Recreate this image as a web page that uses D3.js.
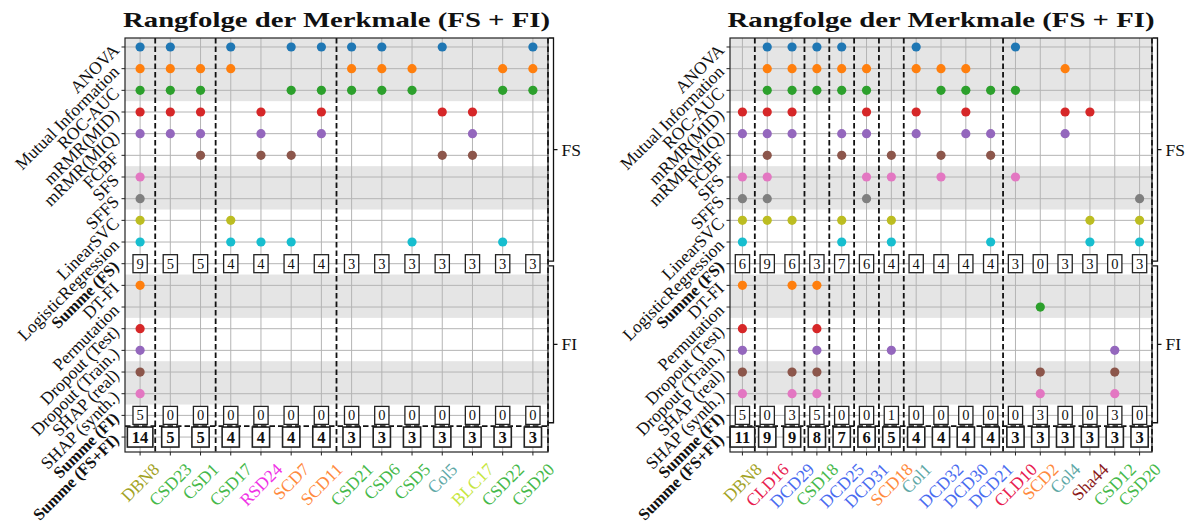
<!DOCTYPE html>
<html>
<head>
<meta charset="utf-8">
<script src="https://cdn.jsdelivr.net/npm/d3@7"></script>
<style>
  body { margin: 0; background: #fff; }
  svg { display: block; }
  text { font-family: "Liberation Serif", "Times New Roman", serif; fill: #111; }
</style>
</head>
<body>
<svg id="chart" width="1190" height="528"></svg>
<script>
// ---- methods (rows) ----
const fsMethods = ["ANOVA", "Mutual Information", "ROC-AUC", "mRMR(MID)", "mRMR(MIQ)",
                   "FCBF", "SFS", "SFFS", "LinearSVC", "LogisticRegression"];
const fiMethods = ["DT-FI", "Permutation", "Dropout (Test)", "Dropout (Train.)",
                   "SHAP (real)", "SHAP (synth.)"];
const sumLabels = ["Summe (FS)", "Summe (FI)", "Summe (FS+FI)"];

// ---- left panel: features and the methods that selected them (row indices) ----
const leftFeatures = ["DBN8", "CSD23", "CSD1", "CSD17", "RSD24", "SCD7", "SCD11",
                      "CSD21", "CSD6", "CSD5", "Col5", "BLC17", "CSD22", "CSD20"];
const leftFS = [
  [0, 1, 2, 3, 4, 6, 7, 8, 9], [0, 1, 2, 3, 4], [1, 2, 3, 4, 5], [0, 1, 8, 9],
  [3, 4, 5, 9], [0, 2, 5, 9], [0, 2, 3, 4], [0, 1, 2], [0, 1, 2], [1, 2, 9],
  [0, 3, 5], [3, 4, 5], [1, 2, 9], [0, 1, 2]
];
const leftFI = [[0, 2, 3, 4, 5], [], [], [], [], [], [], [], [], [], [], [], [], []];

// ---- right panel ----
const rightFeatures = ["DBN8", "CLD16", "DCD29", "CSD18", "DCD25", "DCD31", "SCD18",
                       "Col1", "DCD32", "DCD30", "DCD21", "CLD10", "SCD2", "Col4",
                       "Sha44", "CSD12", "CSD20"];
const rightFS = [
  [3, 4, 6, 7, 8, 9], [0, 1, 2, 3, 4, 5, 6, 7, 8], [0, 1, 2, 3, 4, 8], [0, 1, 2],
  [0, 1, 2, 4, 5, 8, 9], [1, 2, 3, 4, 6, 7], [5, 6, 8, 9], [0, 1, 3, 4],
  [1, 2, 5, 6], [1, 2, 3, 4], [2, 4, 5, 9], [0, 2, 6], [], [1, 3, 4],
  [3, 8, 9], [], [7, 8, 9]
];
const rightFI = [
  [0, 2, 3, 4, 5], [], [0, 4, 5], [0, 2, 3, 4, 5], [], [], [3], [], [], [], [], [],
  [1, 4, 5], [], [], [3, 4, 5], []
];

// ---- colours ----
const fsColors = d3.schemeCategory10;
const fiColors = d3.schemeCategory10.slice(1, 7);
const featureColor = {
  DBN: "#a3a326", CSD: "#46b94a", RSD: "#f032e6", SCD: "#ff8a3d", Col: "#5ea8a6",
  BLC: "#c6e640", CLD: "#e8204f", DCD: "#4a6cf0", Sha: "#8b1a1a"
};
const titleText = "Rangfolge der Merkmale (FS + FI)";

// ---- layout ----
const svg = d3.select("#chart");
const yTop = 38, yBottom = 452;
const nRows = fsMethods.length + 1 + fiMethods.length + 2; // 19
const y = d3.scaleLinear().domain([-0.415, 18.69]).range([yTop, yBottom]);
const rowFSsum = fsMethods.length;              // 10
const rowFI0 = rowFSsum + 1;                    // 11
const rowFIsum = rowFI0 + fiMethods.length;     // 17
const rowTotal = rowFIsum + 1;                  // 18
const bands = [[-0.5, 2.5], [5.5, 7.5], [10.5, 12.5], [14.5, 16.5]];
const brackets = [[-0.415, 9.88, "FS"], [10.1, 17.34, "FI"]];
const rowLabels = [...fsMethods, sumLabels[0], ...fiMethods, sumLabels[1], sumLabels[2]];
const boldRows = new Set([rowFSsum, rowFIsum, rowTotal]);

function drawPanel(x0, x1, features, fsSel, fiSel) {
  const g = svg.append("g");
  const n = features.length;
  const x = d3.scaleLinear().domain([-0.5, n - 0.5]).range([x0, x1]);
  const clampY = v => Math.max(yTop, Math.min(yBottom, y(v)));

  // background bands
  g.selectAll("rect.band").data(bands).join("rect")
    .attr("x", x0).attr("width", x1 - x0)
    .attr("y", d => clampY(d[0])).attr("height", d => clampY(d[1]) - clampY(d[0]))
    .attr("fill", "#e5e5e5");

  // grid
  g.selectAll("line.hg").data(d3.range(nRows)).join("line")
    .attr("x1", x0).attr("x2", x1).attr("y1", d => y(d)).attr("y2", d => y(d))
    .attr("stroke", "#b4b4b4").attr("stroke-width", 1);
  g.selectAll("line.vg").data(d3.range(n)).join("line")
    .attr("x1", d => x(d)).attr("x2", d => x(d)).attr("y1", yTop).attr("y2", yBottom)
    .attr("stroke", "#b4b4b4").attr("stroke-width", 1);

  // selection dots
  const dots = [];
  fsSel.forEach((rows, c) => rows.forEach(r => dots.push({ c, r, col: fsColors[r] })));
  fiSel.forEach((rows, c) => rows.forEach(r => dots.push({ c, r: rowFI0 + r, col: fiColors[r] })));
  g.selectAll("circle").data(dots).join("circle")
    .attr("cx", d => x(d.c)).attr("cy", d => y(d.r)).attr("r", 4.6)
    .attr("fill", d => d.col);

  // group separators where the total changes
  const totals = features.map((f, i) => fsSel[i].length + fiSel[i].length);
  const seps = [];
  for (let i = 0; i < n - 1; i++) if (totals[i] !== totals[i + 1]) seps.push(i + 0.5);
  seps.push(n - 0.5);
  g.selectAll("line.sep").data(seps).join("line")
    .attr("x1", d => x(d)).attr("x2", d => x(d)).attr("y1", yTop).attr("y2", yBottom)
    .attr("stroke", "#111").attr("stroke-width", 1.8).attr("stroke-dasharray", "5.5,3");
  g.append("line")
    .attr("x1", x0).attr("x2", x1).attr("y1", y(rowFIsum + 0.5)).attr("y2", y(rowFIsum + 0.5))
    .attr("stroke", "#111").attr("stroke-width", 1.8).attr("stroke-dasharray", "5.5,3");

  // sum boxes
  const sums = [];
  features.forEach((f, i) => {
    sums.push({ c: i, r: rowFSsum, v: fsSel[i].length, bold: false });
    sums.push({ c: i, r: rowFIsum, v: fiSel[i].length, bold: false });
    sums.push({ c: i, r: rowTotal, v: totals[i], bold: true });
  });
  sums.forEach(s => {
    const sg = g.append("g").attr("transform", `translate(${x(s.c)},${y(s.r)})`);
    const rect = sg.append("rect").attr("fill", "#fff").attr("stroke", "#222")
      .attr("stroke-width", s.bold ? 1.6 : 1.3);
    const t = sg.append("text").text(s.v)
      .attr("text-anchor", "middle").attr("dominant-baseline", "central")
      .attr("font-size", s.bold ? 16.5 : 14.5).attr("font-weight", s.bold ? "bold" : "normal");
    const w = t.node().getComputedTextLength() + (s.bold ? 9 : 7);
    const h = s.bold ? 20 : 18;
    rect.attr("x", -w / 2).attr("y", -h / 2).attr("width", w).attr("height", h);
  });

  // frame
  g.append("rect").attr("x", x0).attr("y", yTop).attr("width", x1 - x0).attr("height", yBottom - yTop)
    .attr("fill", "none").attr("stroke", "#222").attr("stroke-width", 1.2);

  // y ticks + labels
  g.selectAll("line.yt").data(d3.range(nRows)).join("line")
    .attr("x1", x0 - 3.5).attr("x2", x0).attr("y1", d => y(d)).attr("y2", d => y(d))
    .attr("stroke", "#222");
  g.selectAll("text.yl").data(rowLabels).join("text")
    .attr("text-anchor", "end").attr("dominant-baseline", "central")
    .attr("font-size", (d, i) => boldRows.has(i) ? 16.5 : 17.5)
    .attr("font-weight", (d, i) => boldRows.has(i) ? "bold" : "normal")
    .attr("transform", (d, i) => `translate(${x0 - 9},${y(i)}) rotate(-45)`)
    .text(d => d);

  // x ticks + labels
  g.selectAll("line.xt").data(d3.range(n)).join("line")
    .attr("x1", d => x(d)).attr("x2", d => x(d)).attr("y1", yBottom).attr("y2", yBottom + 3.5)
    .attr("stroke", "#222");
  features.forEach((f, i) => {
    const t = g.append("text").text(f)
      .attr("text-anchor", "middle").attr("dominant-baseline", "central")
      .attr("font-size", 17.5)
      .style("fill", featureColor[f.replace(/[0-9]+$/, "")]);
    const w = t.node().getComputedTextLength();
    const cy = yBottom + 9 + (w + 15) / (2 * Math.SQRT2);
    t.attr("transform", `translate(${x(i)},${cy}) rotate(-45)`);
  });

  // brackets FS / FI
  const bx = x1 + 5.5;
  brackets.forEach(([a, b, lab]) => {
    const ya = y(a), yb = y(b), ym = (ya + yb) / 2;
    g.append("path")
      .attr("d", `M${bx - 5},${ya}H${bx}V${yb}H${bx - 5}M${bx},${ym}H${bx + 4}`)
      .attr("fill", "none").attr("stroke", "#111").attr("stroke-width", 1.3);
    g.append("text").text(lab).attr("x", bx + 8).attr("y", ym)
      .attr("dominant-baseline", "central").attr("font-size", 17.5);
  });

  // title
  g.append("text").text(titleText)
    .attr("x", (x0 + x1) / 2).attr("y", 27).attr("text-anchor", "middle")
    .attr("font-size", 21.5).attr("font-weight", "bold")
    .attr("textLength", 427).attr("lengthAdjust", "spacingAndGlyphs");
}

drawPanel(125, 548, leftFeatures, leftFS, leftFI);
drawPanel(730, 1152, rightFeatures, rightFS, rightFI);
</script>
</body>
</html>
